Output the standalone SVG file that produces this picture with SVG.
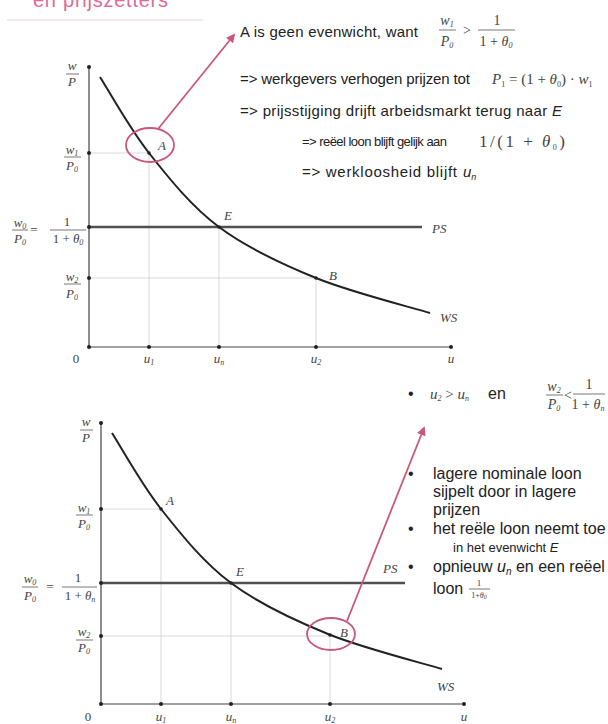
<svg xmlns="http://www.w3.org/2000/svg" xmlns:xlink="http://www.w3.org/1999/xlink" width="608" height="724" viewBox="0 0 608 724">
<style>
.ax{stroke:#444;stroke-width:1.2;fill:none}
.grid{stroke:#cfcfcf;stroke-width:0.8}
.ps{stroke:#505050;stroke-width:2.6}
.ws{stroke:#222;stroke-width:2;fill:none}
.dot{fill:#222}
.bar{stroke:#555;stroke-width:0.8}
.m{font-family:"Liberation Serif",serif;font-style:italic;fill:#444;font-size:13px}
.mn{font-family:"Liberation Serif",serif;fill:#444;font-size:13px}
.t{font-family:"Liberation Sans",sans-serif;fill:#222;font-size:15px}
.b{font-family:"Liberation Sans",sans-serif;fill:#222;font-size:16px}
.pink{stroke:#c9577f;fill:none;stroke-width:1.8}
.s{font-size:8px}
</style>
<defs>
<marker id="ah" viewBox="0 0 10 10" refX="8" refY="5" markerWidth="5" markerHeight="5" orient="auto">
<path d="M0,0 L10,5 L0,10 z" fill="#c9577f"/>
</marker>
<path id="ws" d="M100,77 C108.2,89.7 129.2,128 149,153 C168.8,178 191.2,206.2 219,227 C246.8,247.8 280.8,263.7 316,278 C351.2,292.3 411,307.2 430,313"/>
</defs>
<rect width="608" height="724" fill="#fff"/>

<g id="title">
<text x="33" y="7" font-family="Liberation Sans,sans-serif" font-size="20" fill="#dd6b95" textLength="135">en prijszetters</text>
<line x1="7" y1="20" x2="203" y2="20" stroke="#ead0da" stroke-width="1"/>
</g>

<g id="chart-top">
<g id="grid-top">
<line class="grid" x1="89" y1="153" x2="149" y2="153"/>
<line class="grid" x1="149" y1="153" x2="149" y2="347"/>
<line class="grid" x1="219" y1="227" x2="219" y2="347"/>
<line class="grid" x1="89" y1="278" x2="316" y2="278"/>
<line class="grid" x1="316" y1="278" x2="316" y2="347"/>
</g>
<path class="ax" d="M89,67 V347 H451"/>
<line class="ps" x1="89" y1="227" x2="422" y2="227"/>
<use xlink:href="#ws" class="ws"/>
<g class="dot">
<circle cx="89" cy="67" r="2"/><circle cx="89" cy="153" r="2"/><circle cx="89" cy="227" r="2"/><circle cx="89" cy="278" r="2"/><circle cx="89" cy="347" r="2"/>
<circle cx="149" cy="347" r="2"/><circle cx="219" cy="347" r="2"/><circle cx="316" cy="347" r="2"/><circle cx="451" cy="347" r="2"/>
<circle cx="149" cy="153" r="1.8"/><circle cx="219" cy="227" r="1.8"/><circle cx="316" cy="278" r="1.8"/>
</g>
<text class="m" x="158" y="150">A</text>
<text class="m" x="224" y="220">E</text>
<text class="m" x="329" y="280">B</text>
<text class="m" x="432" y="233">PS</text>
<text class="m" x="440" y="322">WS</text>
<g id="ylab-top" text-anchor="middle">
<text class="m" x="72" y="70">w</text><line class="bar" x1="66" y1="74" x2="79" y2="74"/><text class="m" x="72" y="86">P</text>
<text class="m" x="72" y="154">w<tspan class="s" dy="2">1</tspan></text><line class="bar" x1="64" y1="157" x2="81" y2="157"/><text class="m" x="72" y="170">P<tspan class="s" dy="2">0</tspan></text>
<text class="m" x="20" y="227">w<tspan class="s" dy="2">0</tspan></text><line class="bar" x1="12" y1="230" x2="28" y2="230"/><text class="m" x="20" y="243">P<tspan class="s" dy="2">0</tspan></text>
<text class="mn" x="34" y="234">=</text>
<text class="mn" x="67" y="226">1</text><line class="bar" x1="50" y1="230" x2="86" y2="230"/><text class="m" x="68" y="243"><tspan font-style="normal">1 + </tspan>θ<tspan class="s" dy="2">0</tspan></text>
<text class="m" x="72" y="281">w<tspan class="s" dy="2">2</tspan></text><line class="bar" x1="64" y1="284" x2="81" y2="284"/><text class="m" x="72" y="298">P<tspan class="s" dy="2">0</tspan></text>
</g>
<g id="xlab-top" text-anchor="middle">
<text class="mn" x="76" y="363">0</text>
<text class="m" x="149" y="363">u<tspan class="s" dy="2">1</tspan></text>
<text class="m" x="219" y="363">u<tspan class="s" dy="2">n</tspan></text>
<text class="m" x="316" y="363">u<tspan class="s" dy="2">2</tspan></text>
<text class="m" x="451" y="363">u</text>
</g>
</g>

<g id="chart-bottom">
<g id="grid-bottom">
<line class="grid" x1="101" y1="509" x2="161" y2="509"/>
<line class="grid" x1="161" y1="509" x2="161" y2="704"/>
<line class="grid" x1="231" y1="583" x2="231" y2="704"/>
<line class="grid" x1="101" y1="636" x2="330" y2="636"/>
<line class="grid" x1="330" y1="636" x2="330" y2="704"/>
</g>
<path class="ax" d="M101,423 V704 H464"/>
<line class="ps" x1="101" y1="583" x2="405" y2="583"/>
<use xlink:href="#ws" class="ws" transform="translate(12,356)"/>
<g class="dot">
<circle cx="101" cy="423" r="2"/><circle cx="101" cy="509" r="2"/><circle cx="101" cy="583" r="2"/><circle cx="101" cy="636" r="2"/><circle cx="101" cy="704" r="2"/>
<circle cx="161" cy="704" r="2"/><circle cx="231" cy="704" r="2"/><circle cx="330" cy="704" r="2"/><circle cx="464" cy="704" r="2"/>
<circle cx="161" cy="509" r="1.8"/><circle cx="231" cy="583" r="1.8"/><circle cx="330" cy="635" r="1.8"/>
</g>
<text class="m" x="166" y="505">A</text>
<text class="m" x="236" y="576">E</text>
<text class="m" x="340" y="637">B</text>
<text class="m" x="383" y="573">PS</text>
<text class="m" x="437" y="691">WS</text>
<g id="ylab-bottom" text-anchor="middle">
<text class="m" x="86" y="426">w</text><line class="bar" x1="80" y1="430" x2="93" y2="430"/><text class="m" x="86" y="442">P</text>
<text class="m" x="84" y="512">w<tspan class="s" dy="2">1</tspan></text><line class="bar" x1="76" y1="515" x2="93" y2="515"/><text class="m" x="84" y="528">P<tspan class="s" dy="2">0</tspan></text>
<text class="m" x="30" y="583">w<tspan class="s" dy="2">0</tspan></text><line class="bar" x1="22" y1="587" x2="38" y2="587"/><text class="m" x="30" y="600">P<tspan class="s" dy="2">0</tspan></text>
<text class="mn" x="50" y="591">=</text>
<text class="mn" x="78" y="582">1</text><line class="bar" x1="62" y1="587" x2="97" y2="587"/><text class="m" x="80" y="600"><tspan font-style="normal">1 + </tspan>θ<tspan class="s" dy="2">n</tspan></text>
<text class="m" x="84" y="636">w<tspan class="s" dy="2">2</tspan></text><line class="bar" x1="76" y1="640" x2="93" y2="640"/><text class="m" x="84" y="652">P<tspan class="s" dy="2">0</tspan></text>
</g>
<g id="xlab-bottom" text-anchor="middle">
<text class="mn" x="88" y="721">0</text>
<text class="m" x="161" y="721">u<tspan class="s" dy="2">1</tspan></text>
<text class="m" x="231" y="721">u<tspan class="s" dy="2">n</tspan></text>
<text class="m" x="330" y="721">u<tspan class="s" dy="2">2</tspan></text>
<text class="m" x="464" y="721">u</text>
</g>
</g>

<g id="notes-top">
<text class="t" x="240" y="37" textLength="178">A is geen evenwicht, want</text>
<g text-anchor="middle">
<text class="m" x="447" y="25" style="font-size:14px">w<tspan class="s" dy="2">1</tspan></text>
<line class="bar" x1="439" y1="30" x2="456" y2="30"/>
<text class="m" x="447" y="46" style="font-size:14px">P<tspan class="s" dy="2">0</tspan></text>
<text class="mn" x="467" y="35" style="font-size:14px">&gt;</text>
<text class="mn" x="497" y="25" style="font-size:14px">1</text>
<line class="bar" x1="478" y1="30" x2="515" y2="30"/>
<text class="m" x="496" y="46" style="font-size:14px"><tspan font-style="normal">1 + </tspan>θ<tspan class="s" dy="2">0</tspan></text>
</g>
<text class="t" x="240" y="84" textLength="230">=&gt; werkgevers verhogen prijzen tot</text>
<text class="mn" x="492" y="84" style="font-size:15px"><tspan font-style="italic">P</tspan><tspan class="s" dy="3">1</tspan><tspan dy="-3"> = (1 + </tspan><tspan font-style="italic">θ</tspan><tspan class="s" dy="3">0</tspan><tspan dy="-3">) · </tspan><tspan font-style="italic">w</tspan><tspan class="s" dy="3">1</tspan></text>
<text class="t" x="240" y="116" textLength="322">=&gt; prijsstijging drijft arbeidsmarkt terug naar <tspan font-style="italic">E</tspan></text>
<text class="t" x="302" y="146" style="font-size:13px" textLength="145">=&gt; reëel loon blijft gelijk aan</text>
<text class="mn" x="479" y="147" style="font-size:17px" letter-spacing="2.5">1/(1 + <tspan font-style="italic">θ</tspan><tspan class="s" dy="3">0</tspan><tspan dy="-3">)</tspan></text>
<text class="t" x="302" y="177" textLength="155">=&gt; werkloosheid blijft</text>
<text class="t" x="463" y="177" font-style="italic">u<tspan font-size="9" dy="3">n</tspan></text>
</g>

<g id="notes-bottom">
<g class="b"><text x="408" y="399">•</text><text x="408" y="479">•</text><text x="408" y="534">•</text><text x="408" y="572">•</text></g>
<text class="m" x="430" y="399" style="font-size:15px">u<tspan class="s" dy="2">2</tspan><tspan dy="-2" font-style="normal"> &gt; </tspan>u<tspan class="s" dy="2">n</tspan></text>
<text class="b" x="488" y="399">en</text>
<g text-anchor="middle">
<text class="m" x="554" y="391" style="font-size:14px">w<tspan class="s" dy="2">2</tspan></text>
<line class="bar" x1="546" y1="395" x2="563" y2="395"/>
<text class="m" x="554" y="409" style="font-size:14px">P<tspan class="s" dy="2">0</tspan></text>
<text class="mn" x="568" y="400" style="font-size:14px">&lt;</text>
<text class="mn" x="589" y="389" style="font-size:14px">1</text>
<line class="bar" x1="573" y1="394" x2="605" y2="394"/>
<text class="m" x="588" y="409" style="font-size:14px"><tspan font-style="normal">1 + </tspan>θ<tspan class="s" dy="2">n</tspan></text>
</g>
<text class="b" x="433" y="479">lagere nominale loon</text>
<text class="b" x="433" y="497">sijpelt door in lagere</text>
<text class="b" x="433" y="515">prijzen</text>
<text class="b" x="433" y="534">het reële loon neemt toe</text>
<text class="b" x="453" y="552" style="font-size:13px">in het evenwicht <tspan font-style="italic">E</tspan></text>
<text class="b" x="433" y="572">opnieuw <tspan font-style="italic">u</tspan><tspan font-size="10" dy="3" font-style="italic">n</tspan><tspan dy="-3"> en een reëel</tspan></text>
<text class="b" x="433" y="594">loon</text>
<g text-anchor="middle">
<text class="mn" x="479" y="586" style="font-size:9px">1</text>
<line class="bar" x1="469" y1="589" x2="490" y2="589"/>
<text class="m" x="479" y="598" style="font-size:8px"><tspan font-style="normal">1+</tspan>θ<tspan font-size="6" dy="1">0</tspan></text>
</g>
</g>

<g id="connectors">
<ellipse class="pink" cx="150" cy="145" rx="24" ry="17"/>
<line class="pink" x1="158" y1="129" x2="234" y2="35" marker-end="url(#ah)"/>
<ellipse class="pink" cx="331" cy="634" rx="24" ry="16"/>
<line class="pink" x1="347" y1="621" x2="424" y2="428" marker-end="url(#ah)"/>
</g>
</svg>
